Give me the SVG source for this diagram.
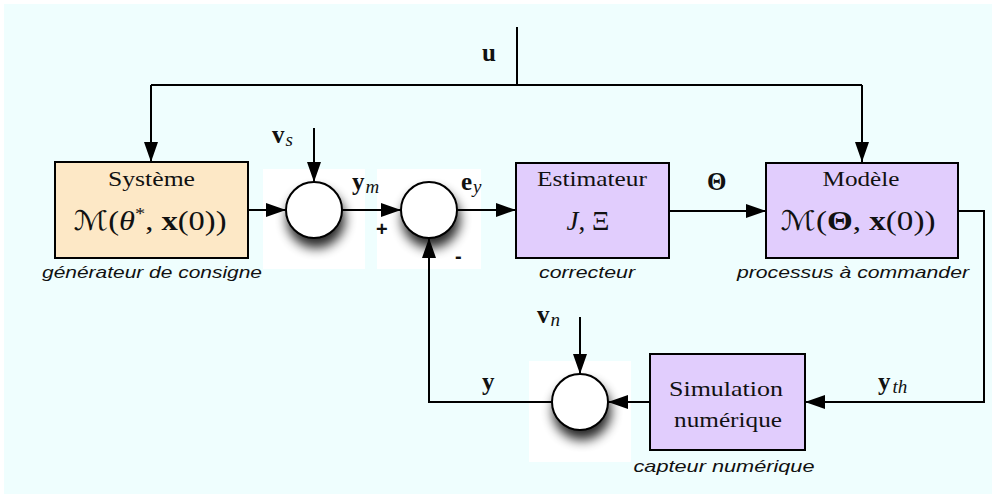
<svg xmlns="http://www.w3.org/2000/svg" width="996" height="498" viewBox="0 0 996 498">
<style>
.bg{fill:#effefe}
.wr{fill:#ffffff}
.box{stroke:#000;stroke-width:2}
.peach{fill:#fde8c6}
.purple{fill:#e1cdfd}
.circ{fill:#fff;stroke:#000;stroke-width:2}
.ln{fill:none;stroke:#000;stroke-width:2}
.title{font-family:"Liberation Serif","Times New Roman",serif;font-size:21px;fill:#111}
.math{font-family:"Liberation Serif","Times New Roman",serif;font-size:27px;fill:#111}
.cal{font-family:"DejaVu Serif","DejaVu Sans",serif;font-style:italic;font-weight:normal}
.cap{font-family:"Liberation Sans",Arial,sans-serif;font-style:italic;font-size:17px;fill:#111}
.lab{font-family:"Liberation Serif","Times New Roman",serif;font-size:25px;fill:#111}
.sub{font-style:italic;font-weight:normal;font-size:19px}
.b{font-weight:bold}
.i{font-style:italic}
.sign{font-family:"Liberation Sans",Arial,sans-serif;font-size:20px;font-weight:bold;fill:#111}
</style>
<defs>
<marker id="arr" markerUnits="userSpaceOnUse" markerWidth="20" markerHeight="14" refX="20" refY="7" orient="auto">
<path d="M0,0 L20,7 L0,14 z" fill="#000"/>
</marker>
<filter id="sh" x="-60%" y="-60%" width="220%" height="240%">
<feGaussianBlur in="SourceAlpha" stdDeviation="6"/>
<feOffset dx="2" dy="9" result="b"/>
<feComponentTransfer><feFuncA type="linear" slope="0.85"/></feComponentTransfer>
<feMerge><feMergeNode/><feMergeNode in="SourceGraphic"/></feMerge>
</filter>
</defs>
<rect x="0" y="0" width="996" height="498" fill="#ffffff"/>
<rect class="bg" x="4" y="4" width="988" height="490"/>
<rect class="wr" x="263" y="169" width="102" height="100"/>
<rect class="wr" x="377" y="169" width="104" height="100"/>
<rect class="wr" x="529" y="361" width="102" height="101"/>

<g id="connectors">
<path class="ln" d="M517,27 V85"/>
<path class="ln" d="M151,85 H862"/>
<path class="ln" d="M151,85 V162" marker-end="url(#arr)"/>
<path class="ln" d="M862,85 V162" marker-end="url(#arr)"/>
<path class="ln" d="M314,128 V182" marker-end="url(#arr)"/>
<path class="ln" d="M248,210 H286" marker-end="url(#arr)"/>
<path class="ln" d="M342,210 H401" marker-end="url(#arr)"/>
<path class="ln" d="M457,210 H516" marker-end="url(#arr)"/>
<path class="ln" d="M669,211 H766" marker-end="url(#arr)"/>
<path class="ln" d="M958,211 H984 V402 H805" marker-end="url(#arr)"/>
<path class="ln" d="M650,402 H608" marker-end="url(#arr)"/>
<path class="ln" d="M580,317 V374" marker-end="url(#arr)"/>
<path class="ln" d="M552,402 H429 V238" marker-end="url(#arr)"/>
<text class="lab b" x="482" y="61">u</text>
<text class="lab" x="272" y="143"><tspan class="b">v</tspan><tspan class="sub" dx="1" dy="3">s</tspan></text>
<text class="lab" x="352" y="190"><tspan class="b">y</tspan><tspan class="sub" dx="1" dy="3">m</tspan></text>
<text class="lab" x="461" y="190"><tspan class="b">e</tspan><tspan class="sub" dx="1" dy="3">y</tspan></text>
<text class="lab b" x="707" y="190">Θ</text>
<text class="lab" x="878" y="390"><tspan class="b">y</tspan><tspan class="sub" dx="2" dy="3">th</tspan></text>
<text class="lab b" x="482" y="390">y</text>
<text class="lab" x="537" y="323"><tspan class="b">v</tspan><tspan class="sub" dx="1" dy="3">n</tspan></text>
<text class="sign" x="376" y="236">+</text>
<text class="sign" x="455" y="263">-</text>
</g>

<g id="sum1"><circle class="circ" cx="314" cy="210" r="28" filter="url(#sh)"/></g>
<g id="sum2"><circle class="circ" cx="429" cy="210" r="28" filter="url(#sh)"/></g>
<g id="sum3"><circle class="circ" cx="580" cy="402" r="28" filter="url(#sh)"/></g>

<g id="systeme">
<rect class="box peach" x="55" y="162" width="193" height="96"/>
<text class="title" x="151.5" y="186" text-anchor="middle" textLength="87" lengthAdjust="spacingAndGlyphs">Système</text>
<text class="math" x="150" y="230" text-anchor="middle" textLength="153" lengthAdjust="spacingAndGlyphs"><tspan class="cal">ℳ</tspan>(<tspan class="i">θ</tspan><tspan font-size="17" dy="-11">*</tspan><tspan dy="11">, </tspan><tspan class="b">x</tspan>(0))</text>
<text class="cap" x="152" y="278" text-anchor="middle" textLength="220" lengthAdjust="spacingAndGlyphs">générateur de consigne</text>
</g>

<g id="estimateur">
<rect class="box purple" x="516" y="163" width="153" height="95"/>
<text class="title" x="592" y="186" text-anchor="middle" textLength="110" lengthAdjust="spacingAndGlyphs">Estimateur</text>
<text class="math" x="588" y="230" text-anchor="middle"><tspan class="i">J</tspan>, Ξ</text>
<text class="cap" x="587" y="278" text-anchor="middle" textLength="96" lengthAdjust="spacingAndGlyphs">correcteur</text>
</g>

<g id="modele">
<rect class="box purple" x="766" y="163" width="192" height="95"/>
<text class="title" x="861" y="186" text-anchor="middle" textLength="77" lengthAdjust="spacingAndGlyphs">Modèle</text>
<text class="math" x="858" y="230" text-anchor="middle" textLength="155" lengthAdjust="spacingAndGlyphs"><tspan class="cal">ℳ</tspan>(<tspan class="b">Θ</tspan>, <tspan class="b">x</tspan>(0))</text>
<text class="cap" x="853" y="278" text-anchor="middle" textLength="232" lengthAdjust="spacingAndGlyphs">processus à commander</text>
</g>

<g id="simulation">
<rect class="box purple" x="650" y="354" width="155" height="96"/>
<text class="title" x="726" y="396" text-anchor="middle" textLength="114" lengthAdjust="spacingAndGlyphs">Simulation</text>
<text class="title" x="728" y="427" text-anchor="middle" textLength="108" lengthAdjust="spacingAndGlyphs">numérique</text>
<text class="cap" x="724" y="472" text-anchor="middle" textLength="181" lengthAdjust="spacingAndGlyphs">capteur numérique</text>
</g>
</svg>
